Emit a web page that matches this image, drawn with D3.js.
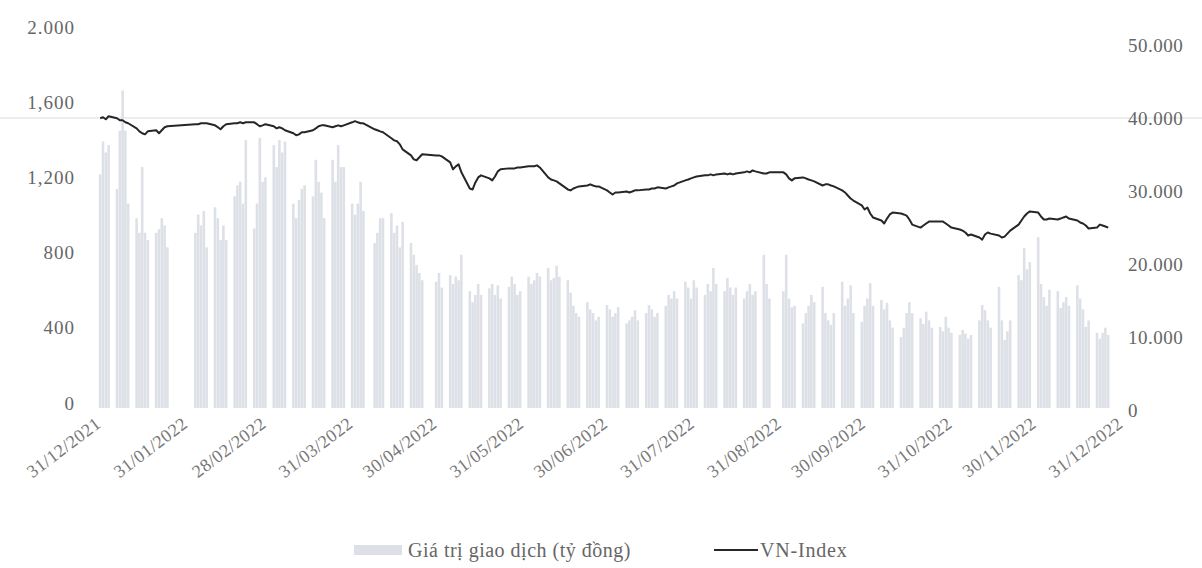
<!DOCTYPE html>
<html><head><meta charset="utf-8">
<script src="https://cdn.jsdelivr.net/npm/d3@7/dist/d3.min.js"></script>
<style>
html,body{margin:0;padding:0;background:#fff;}
svg{display:block;}
text{font-family:"Liberation Serif","Times New Roman",serif;}
</style></head>
<body><svg id="chart" width="1202" height="568"></svg>
<script>
// ---- data ----
const holidays = ["2022-01-03","2022-01-31","2022-02-01","2022-02-02","2022-02-03","2022-02-04","2022-04-11","2022-05-02","2022-05-03","2022-09-01","2022-09-02"];
const xTickLabels = ["31/12/2021","31/01/2022","28/02/2022","31/03/2022","30/04/2022","31/05/2022","30/06/2022","31/07/2022","31/08/2022","30/09/2022","31/10/2022","30/11/2022","31/12/2022"];
const leftTicks = [0, 400, 800, 1200, 1600, 2000];
const leftTickLabels = ["0", "400", "800", "1,200", "1,600", "2.000"];
const rightTicks = [0, 10000, 20000, 30000, 40000, 50000];
const rightTickLabels = ["0", "10.000", "20.000", "30.000", "40.000", "50.000"];
const seriesNames = ["Giá trị giao dịch (tỷ đồng)", "VN-Index"];

// trading value (tỷ đồng), one per trading day
const tradeValue = [
 32000,36500,35000,36000,30000,38000,43500,38000,28000,26000,24000,33000,24000,23000,24000,24500,26000,25000,22000,
 24000,26500,25000,27000,22000,27500,26000,23000,25000,23000,29000,30500,31000,28000,36700,24600,
 28000,37000,31000,31600,36000,33000,36700,35000,36500,28000,26000,28500,30000,30500,29000,34000,31000,29500,26000,34000,31000,36000,33000,
 33000,28000,26500,28000,31000,27000,22600,24000,26000,26000,26700,24000,25000,22000,25500,22600,21000,19600,18500,17500,
 17300,18500,16500,18200,17000,18000,17500,21000,16000,14500,15500,17000,15500,16400,17000,15500,16800,15000,16600,18000,
 17000,15500,16000,18000,17000,17500,18500,18000,19200,17500,17800,19500,18000,17500,15800,14000,13000,12500,14500,13500,13000,12000,
 12500,14100,13500,12500,13000,13800,11600,12000,12500,13400,12000,13000,14100,13500,12500,13000,14000,15500,15000,16000,15000,
 17300,16500,15000,17500,16500,15500,17000,16000,19200,17000,16000,17800,16500,15500,16500,15000,16000,17000,15500,16000,21000,17000,15000,
 16000,21000,15000,13800,14000,11600,13000,14000,15500,14500,16600,13000,12000,11400,13000,17300,14000,15000,16800,13000,
 11800,14000,15000,17100,14000,14800,13500,14400,12000,11000,9700,11000,13000,14500,13000,12300,11500,13200,12000,11000,11100,
 10500,12500,11000,10300,10000,10700,10200,9500,10000,12000,14100,13400,12000,11000,16600,12000,9300,10500,12000,18200,17500,21900,
 19000,20000,23400,17000,15200,14000,16200,16000,13700,14500,15200,14000,16800,15000,13500,11100,12000,10300,9500,10300,11000,10000
];
// VN-Index close, one per trading day
const vnIndex = [
 1515,1520,1509,1525,1515,1504,1504,1493,1488,1461,1445,1435,1429,1445,1451,1435,1451,1467,1472,
 1483,1483,1488,1488,1488,1477,1467,1456,1472,1483,1488,1488,1493,1488,1493,1493,
 1483,1472,1477,1483,1472,1461,1467,1461,1451,1435,1424,1429,1440,1440,1451,1461,1472,1477,1477,1467,1472,1477,1472,
 1477,1493,1499,1493,1488,1488,1456,1451,1445,1440,1408,1397,1392,1376,1349,1317,1296,1291,1307,1323,
 1317,1317,1312,1280,1243,1259,1269,1227,1141,1136,1173,1200,1211,1195,1184,1205,1232,1243,1248,1248,
 1248,1253,1253,1259,1259,1259,1264,1253,1200,1189,1184,1179,1168,1136,1131,1141,1147,1152,1157,1163,1157,1152,
 1152,1131,1120,1109,1120,1120,1125,1120,1125,1131,1131,1136,1136,1141,1141,1147,1141,1147,1152,1157,1168,
 1184,1189,1195,1200,1205,1211,1211,1216,1211,1216,1221,1216,1221,1216,1221,1227,1232,1227,1237,1232,1221,1221,1227,
 1227,1216,1195,1184,1195,1200,1195,1189,1184,1179,1157,1163,1163,1157,1152,1131,1120,1104,1088,1077,
 1051,1029,1040,1008,987,971,955,981,1003,1013,1008,1003,997,976,949,933,944,955,965,965,965,
 965,955,944,933,923,917,907,891,896,880,869,896,907,901,891,880,885,901,917,949,971,992,
 1008,1019,1013,992,976,976,981,976,981,987,992,981,971,960,955,944,928,933,949,944,939,933
];

// ---- trading calendar (weekdays minus holidays) ----
const parseVN = d3.timeParse("%d/%m/%Y");
const holidaySet = new Set(holidays);
const fmtISO = d3.timeFormat("%Y-%m-%d");
const tradingDays = d3.timeDay.range(new Date(2022,0,1), new Date(2022,11,31))
  .filter(d => d.getDay() !== 0 && d.getDay() !== 6 && !holidaySet.has(fmtISO(d)));
const n = Math.min(tradingDays.length, tradeValue.length, vnIndex.length);
const data = d3.range(n).map(i => ({date: tradingDays[i], value: tradeValue[i], index: vnIndex[i]}));

// ---- scales ----
const svg = d3.select("#chart");
const x = d3.scaleTime().domain([parseVN(xTickLabels[0]), parseVN(xTickLabels[xTickLabels.length-1])]).range([89, 1111]);
const yBar = d3.scaleLinear().domain([0, 50000]).range([408, 43]);
const yLine = d3.scaleLinear().domain([0, 2000]).range([403, 27]);

// faint horizontal rule
svg.append("line").attr("x1", 0).attr("x2", 1202)
  .attr("y1", yBar(40000)+2).attr("y2", yBar(40000)+2)
  .attr("stroke", "#ededed").attr("stroke-width", 2);

// bars
const bw = 2.6;
svg.append("g").selectAll("rect").data(data).join("rect")
  .attr("x", d => x(d.date) - bw/2)
  .attr("y", d => yBar(d.value))
  .attr("width", bw)
  .attr("height", d => yBar(0) - yBar(d.value))
  .attr("fill", "#dde1e7");

// line
svg.append("path").datum(data)
  .attr("fill", "none").attr("stroke", "#262626").attr("stroke-width", 2)
  .attr("stroke-linejoin", "round")
  .attr("d", d3.line().x(d => x(d.date)).y(d => yLine(d.index)));

// left axis
const leftAxis = d3.axisLeft(yLine).tickValues(leftTicks).tickSize(0).tickPadding(0)
  .tickFormat((d,i) => leftTickLabels[i]);
const gl = svg.append("g").attr("transform", "translate(75,0)").call(leftAxis);
gl.select(".domain").remove();
gl.selectAll("text").attr("font-family", "Liberation Serif").attr("font-size", 19)
  .attr("letter-spacing", "1px").attr("fill", "#666");

// right axis
const rightAxis = d3.axisRight(yBar).tickValues(rightTicks).tickSize(0).tickPadding(0)
  .tickFormat((d,i) => rightTickLabels[i]);
const gr = svg.append("g").attr("transform", "translate(1128,2)").call(rightAxis);
gr.select(".domain").remove();
gr.selectAll("text").attr("font-family", "Liberation Serif").attr("font-size", 19)
  .attr("letter-spacing", "0.5px").attr("fill", "#666");

// bottom axis
const xAxis = d3.axisBottom(x).tickValues(xTickLabels.map(parseVN)).tickSize(0)
  .tickFormat((d,i) => xTickLabels[i]);
const gx = svg.append("g").attr("transform", "translate(0,416)").call(xAxis);
gx.select(".domain").remove();
gx.selectAll("text").attr("font-family", "Liberation Serif").attr("font-size", 18)
  .attr("letter-spacing", "0.5px").attr("fill", "#777")
  .attr("text-anchor", "end").attr("x", 4).attr("dy", "0.7em")
  .attr("transform", "rotate(-37)");

// legend
const lg = svg.append("g");
lg.append("rect").attr("x", 354).attr("y", 545).attr("width", 48).attr("height", 10).attr("fill", "#dde1e7");
lg.append("text").attr("x", 408).attr("y", 557).attr("font-size", 20).attr("letter-spacing", "0.5px")
  .attr("fill", "#666").text(seriesNames[0]);
lg.append("line").attr("x1", 714).attr("x2", 758).attr("y1", 550).attr("y2", 550).attr("stroke", "#262626").attr("stroke-width", 2);
lg.append("text").attr("x", 760).attr("y", 557).attr("font-size", 20).attr("letter-spacing", "0.8px")
  .attr("fill", "#666").text(seriesNames[1]);
</script></body></html>
